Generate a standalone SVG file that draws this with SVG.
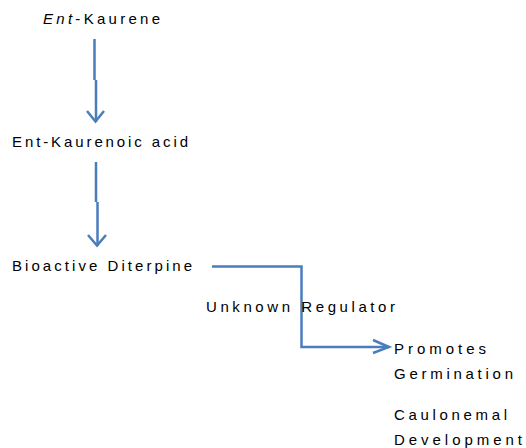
<svg xmlns="http://www.w3.org/2000/svg" width="526" height="448" viewBox="0 0 526 448">
<style>
text{font-family:"Liberation Sans",Arial,sans-serif;font-size:15px;fill:#000}
.c{fill:none;stroke:#4a7ebb;stroke-width:2.5;stroke-linejoin:miter}
</style>
<rect width="526" height="448" fill="#fff"/>
<g id="connectors">
<path class="c" d="M94.5,39 V80 M96,80 V122"/>
<path class="c" d="M87,111 L95.5,121.5 L104,111"/>
<path class="c" d="M96,162 V202 M97.5,202 V246"/>
<path class="c" d="M88,235 L97,245.5 L106,235"/>
<path class="c" d="M212,266.5 H301.5 V347 H389"/>
<path class="c" d="M373,340 L389,347 L373,353"/>
</g>
<g id="n1"><text x="43" y="24" textLength="117" lengthAdjust="spacing"><tspan font-style="italic">Ent</tspan>-Kaurene</text></g>
<g id="n2"><text x="12" y="147" textLength="176" lengthAdjust="spacing">Ent-Kaurenoic acid</text></g>
<g id="n3"><text x="12" y="271" textLength="180" lengthAdjust="spacing">Bioactive Diterpine</text></g>
<g id="n4"><text x="206" y="312" textLength="189" lengthAdjust="spacing">Unknown Regulator</text></g>
<g id="n5">
<text x="394" y="354" textLength="92" lengthAdjust="spacing">Promotes</text>
<text x="394" y="379" textLength="119" lengthAdjust="spacing">Germination</text>
<text x="394" y="420" textLength="113" lengthAdjust="spacing">Caulonemal</text>
<text x="394" y="445" textLength="128" lengthAdjust="spacing">Development</text>
</g>
</svg>
